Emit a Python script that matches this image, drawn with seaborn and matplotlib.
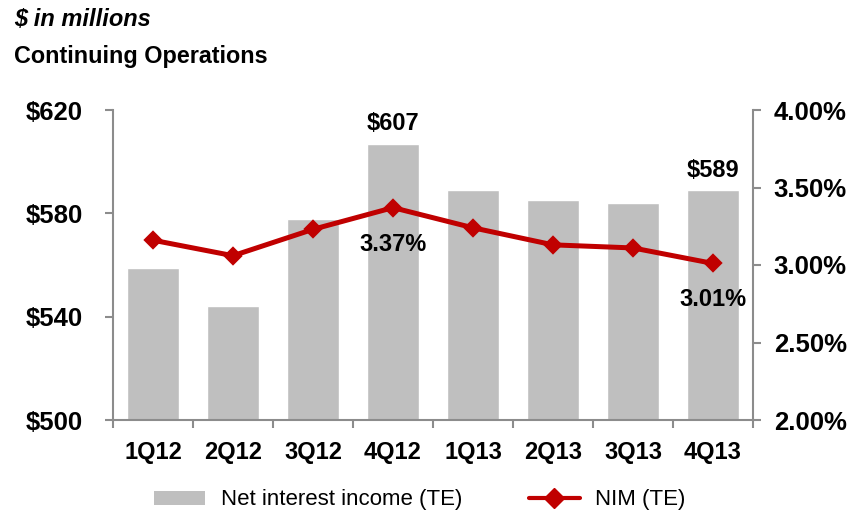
import matplotlib
matplotlib.use("Agg")
import matplotlib.pyplot as plt
import seaborn as sns
import pandas as pd
from matplotlib.lines import Line2D
from matplotlib.patches import Patch

quarters = ["1Q12", "2Q12", "3Q12", "4Q12", "1Q13", "2Q13", "3Q13", "4Q13"]
nii = [559, 544, 578, 607, 589, 585, 584, 589]
nim = [3.16, 3.06, 3.23, 3.37, 3.24, 3.13, 3.11, 3.01]
left_ticks = [500, 540, 580, 620]
right_ticks = [2.00, 2.50, 3.00, 3.50, 4.00]

sns.set_theme(style="white")
plt.rcParams["font.family"] = ["Liberation Sans", "DejaVu Sans"]
plt.rcParams["text.color"] = "black"
plt.rcParams["xtick.labelcolor"] = "black"
plt.rcParams["ytick.labelcolor"] = "black"

df = pd.DataFrame({"quarter": quarters, "nii": nii, "nim": nim})

fig = plt.figure(figsize=(8.54, 5.12), dpi=100)
ax = fig.add_axes([113/854, 1-420/512, 640/854, 310/512])

sns.barplot(data=df, x="quarter", y="nii", color="#BFBFBF", saturation=1,
            width=0.66, ax=ax)
ax.set_ylim(500, 620)
ax.set_yticks(left_ticks)
ax.set_yticklabels([f"${v}" for v in left_ticks])
ax.set_xlim(-0.5, len(quarters) - 0.5)
ax.set_xlabel("")
ax.set_ylabel("")

ax2 = ax.twinx()
sns.pointplot(data=df, x="quarter", y="nim", color="#C00000", markers="D",
              markersize=7, linewidth=3.6, ax=ax2)
ax2.set_ylim(2.0, 4.0)
ax2.set_yticks(right_ticks)
ax2.set_yticklabels([f"{v:.2f}%" for v in right_ticks])
ax2.set_xlim(-0.5, len(quarters) - 0.5)
ax2.set_xlabel("")
ax2.set_ylabel("")

gray = "#8C8C8C"
for a in (ax, ax2):
    for s in a.spines.values():
        s.set_visible(False)
    a.grid(False)
ax.spines["left"].set_visible(True)
ax.spines["bottom"].set_visible(True)
ax2.spines["right"].set_visible(True)
for a, side in ((ax, "left"), (ax, "bottom"), (ax2, "right")):
    a.spines[side].set_color(gray)
    a.spines[side].set_linewidth(1.5)

ax.set_xticks([i - 0.5 for i in range(len(quarters) + 1)], minor=True)
ax.tick_params(axis="x", which="minor", length=6, width=1.5, color=gray, direction="out", bottom=True)
ax.tick_params(axis="x", which="major", length=0, labelsize=17, pad=15, labelcolor="black")
ax.tick_params(axis="y", length=6, width=1.5, color=gray, direction="out", left=True,
               labelsize=18.5, pad=16, labelcolor="black")
ax2.tick_params(axis="y", length=6, width=1.5, color=gray, direction="out", right=True,
                labelsize=18.5, pad=9, labelcolor="black")
for lab in ax.get_xticklabels() + ax.get_yticklabels() + ax2.get_yticklabels():
    lab.set_fontweight("bold")

# annotations
for idx in (3, 7):
    ax.annotate(f"${nii[idx]}", xy=(idx, nii[idx]), xytext=(0, 6),
                textcoords="offset points", ha="center", va="bottom",
                fontsize=17, fontweight="bold", color="black")
    ax2.annotate(f"{nim[idx]:.2f}%", xy=(idx, nim[idx]), xytext=(0, -18),
                 textcoords="offset points", ha="center", va="top",
                 fontsize=17, fontweight="bold", color="black")

fig.text(14/854, 1-20/512, "$ in millions", fontsize=17, fontweight="bold",
         fontstyle="italic", va="center", ha="left", color="black")
fig.text(14/854, 1-57/512, "Continuing Operations", fontsize=16.8, fontweight="bold",
         va="center", ha="left", color="black")

handles = [Patch(facecolor="#BFBFBF", edgecolor="none"),
           Line2D([0], [0], color="#C00000", lw=3, marker="D", markersize=10)]
fig.legend(handles, ["Net interest income (TE)", "NIM (TE)"], loc="center",
           bbox_to_anchor=(420/854, 1-500/512), ncol=2, frameon=False,
           fontsize=16, handlelength=2.3, handleheight=0.6, columnspacing=3.0,
           handletextpad=0.7, labelcolor="black")

fig.savefig("out.png", dpi=100)
